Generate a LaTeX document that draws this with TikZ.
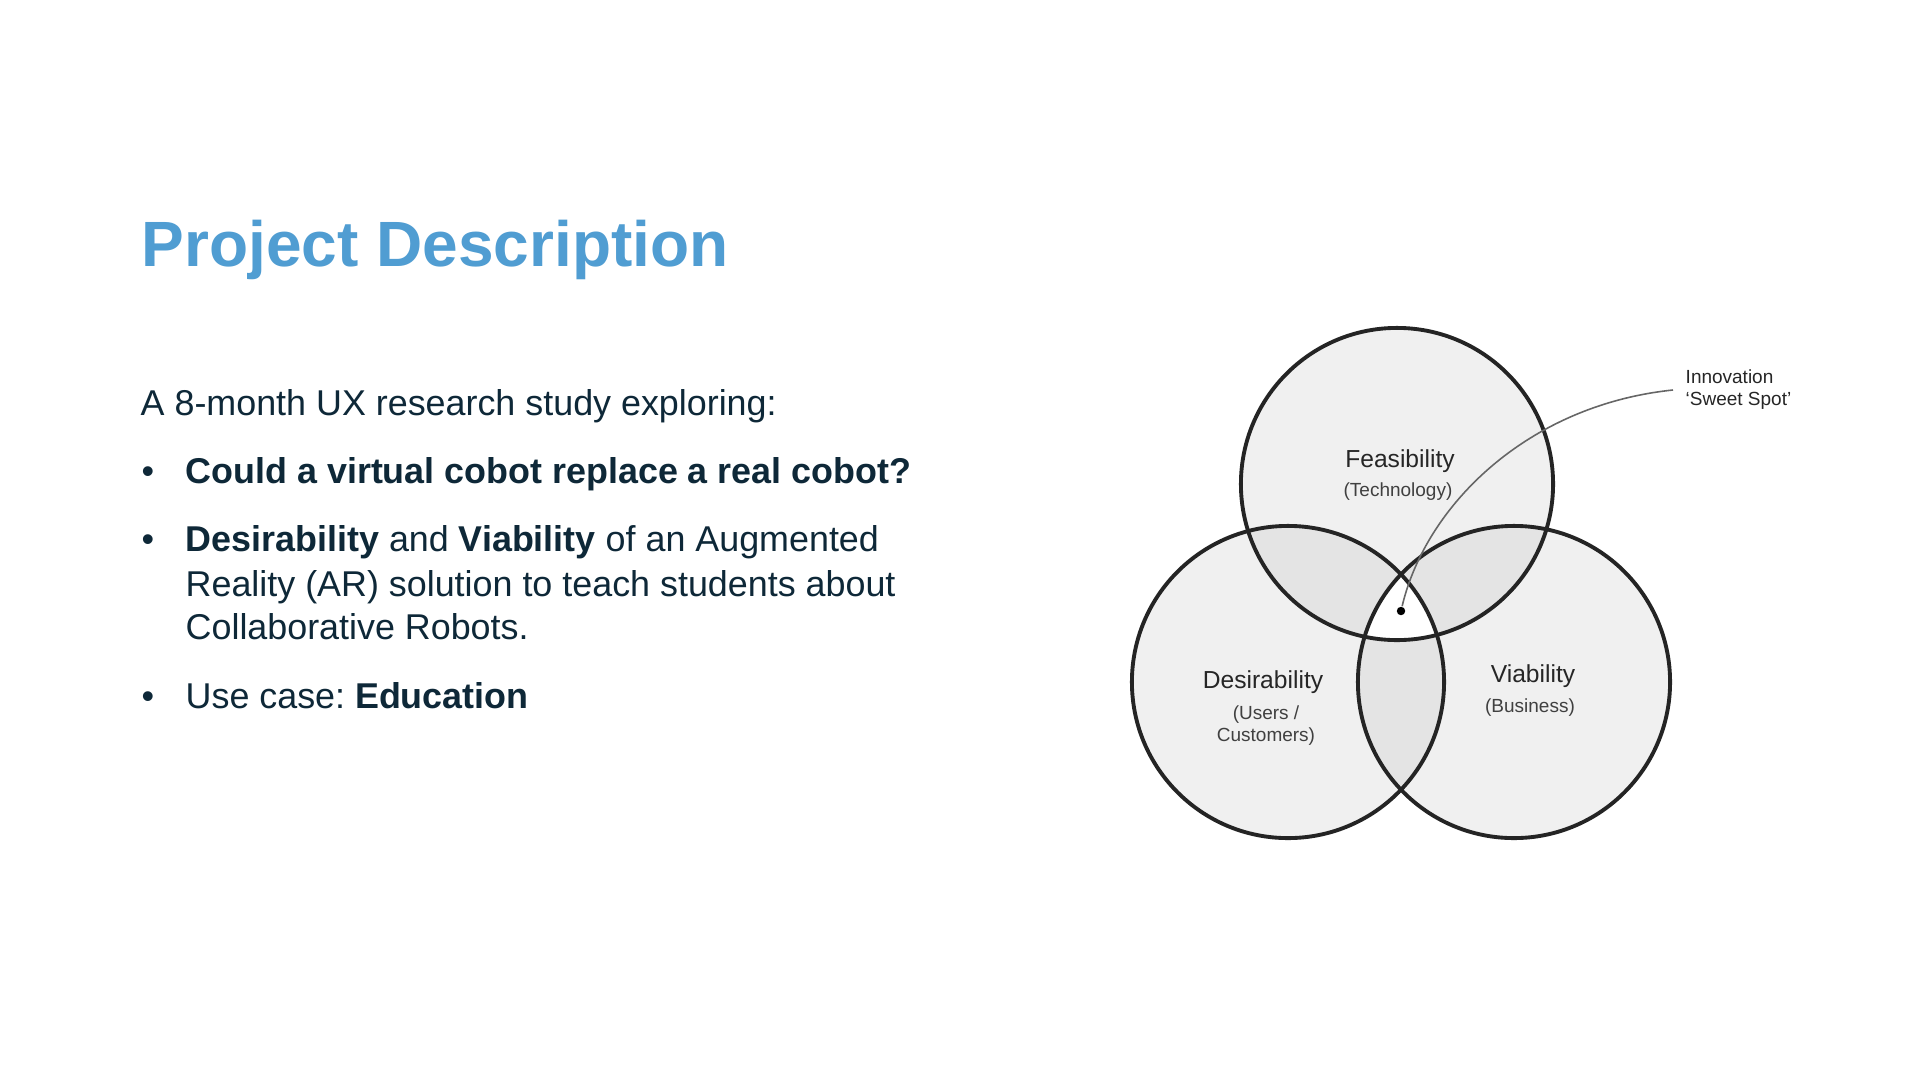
\documentclass[tikz,border=0pt]{standalone}
\usepackage{fontspec}
\setmainfont{Liberation Sans}
\usepackage{xcolor}
\usetikzlibrary{positioning}
\frenchspacing
\definecolor{titleblue}{RGB}{80,157,210}
\definecolor{bodyink}{RGB}{14,40,56}
\definecolor{vennfill}{RGB}{240,240,240}
\definecolor{vennover}{RGB}{228,228,228}
\definecolor{vennline}{RGB}{36,36,36}
\newcommand{\vennr}{1.56cm}
\tikzset{
    heading/.style={
        anchor=base west,
        inner sep=0pt,
        text=titleblue,
        font=\fontsize{18.2pt}{22pt}\selectfont\bfseries
    },
    body/.style={
        anchor=base west,
        inner sep=0pt,
        text=bodyink,
        font=\fontsize{10.2pt}{12.5pt}\selectfont
    },
    setlabel/.style={
        anchor=base,
        inner sep=0pt,
        text=black!85,
        font=\fontsize{7pt}{8pt}\selectfont
    },
    sublabel/.style={
        anchor=base,
        inner sep=0pt,
        text=black!75,
        font=\fontsize{5.4pt}{6.3pt}\selectfont
    },
    note/.style={
        anchor=west,
        align=left,
        inner sep=1.2mm,
        text=black!85,
        font=\fontsize{5.4pt}{6.3pt}\selectfont
    },
    ring/.style={
        draw=vennline,
        line width=1.1pt
    },
    pointer/.style={
        draw=black!60,
        line width=0.45pt
    },
    spot/.style={
        circle,
        fill=black,
        inner sep=0pt,
        minimum size=2.4pt
    }
}

\begin{document}
\frenchspacing
\begin{tikzpicture}[x=0.01cm, y=-0.01cm]
\useasboundingbox[fill=white] (0,0) rectangle (1920,1075);

% Title
\node[heading] (title) at (141,266) {Project Description};

% Intro and bullets
\node[body] (intro) at (140,415) {A 8-month UX research study exploring:};

\node[body] (b1) at (141,483) {•};
\node[body] (q1) at (185,483) {\bfseries Could a virtual cobot replace a real cobot?};

\node[body] (b2) at (141,551) {•};
\node[body] (q2a) at (185,551) {\textbf{Desirability} and \textbf{Viability} of an Augmented};
\node[body] (q2b) at (185,596) {Reality (AR) solution to teach students about};
\node[body] (q2c) at (185,639) {Collaborative Robots.};

\node[body] (b3) at (141,708) {•};
\node[body] (q3) at (185,708) {Use case: \textbf{Education}};

% Venn centres
\coordinate (ctop) at (1397,484);
\coordinate (cleft) at (1288,682);
\coordinate (cright) at (1514,682);

% Fills
\fill[vennfill] (ctop) circle[radius=\vennr];
\fill[vennfill] (cleft) circle[radius=\vennr];
\fill[vennfill] (cright) circle[radius=\vennr];
\begin{scope}
    \clip (ctop) circle[radius=\vennr];
    \fill[vennover] (cleft) circle[radius=\vennr];
    \fill[vennover] (cright) circle[radius=\vennr];
\end{scope}
\begin{scope}
    \clip (cleft) circle[radius=\vennr];
    \fill[vennover] (cright) circle[radius=\vennr];
\end{scope}
\begin{scope}
    \clip (ctop) circle[radius=\vennr];
    \clip (cleft) circle[radius=\vennr];
    \fill[white] (cright) circle[radius=\vennr];
\end{scope}

% Outlines
\draw[ring] (ctop) circle[radius=\vennr];
\draw[ring] (cleft) circle[radius=\vennr];
\draw[ring] (cright) circle[radius=\vennr];

% Set labels
\node[setlabel] (feas) at (1400,467) {Feasibility};
\node[sublabel] (tech) at (1398,496) {(Technology)};

\node[setlabel] (desi) at (1263,688) {Desirability};
\node[sublabel] (users) at (1266,719) {(Users /};
\node[sublabel] (cust) at (1266,741) {Customers)};

\node[setlabel] (viab) at (1533,682) {Viability};
\node[sublabel] (busi) at (1530,712) {(Business)};

% Sweet spot
\node[spot] (sweet) at (1401,611) {};
\node[note] (innov) at (1673,390) {Innovation\\‘Sweet Spot’};
\draw[pointer] (sweet) .. controls (1426,505) and (1528,405) .. (innov.west);

\end{tikzpicture}
\end{document}
